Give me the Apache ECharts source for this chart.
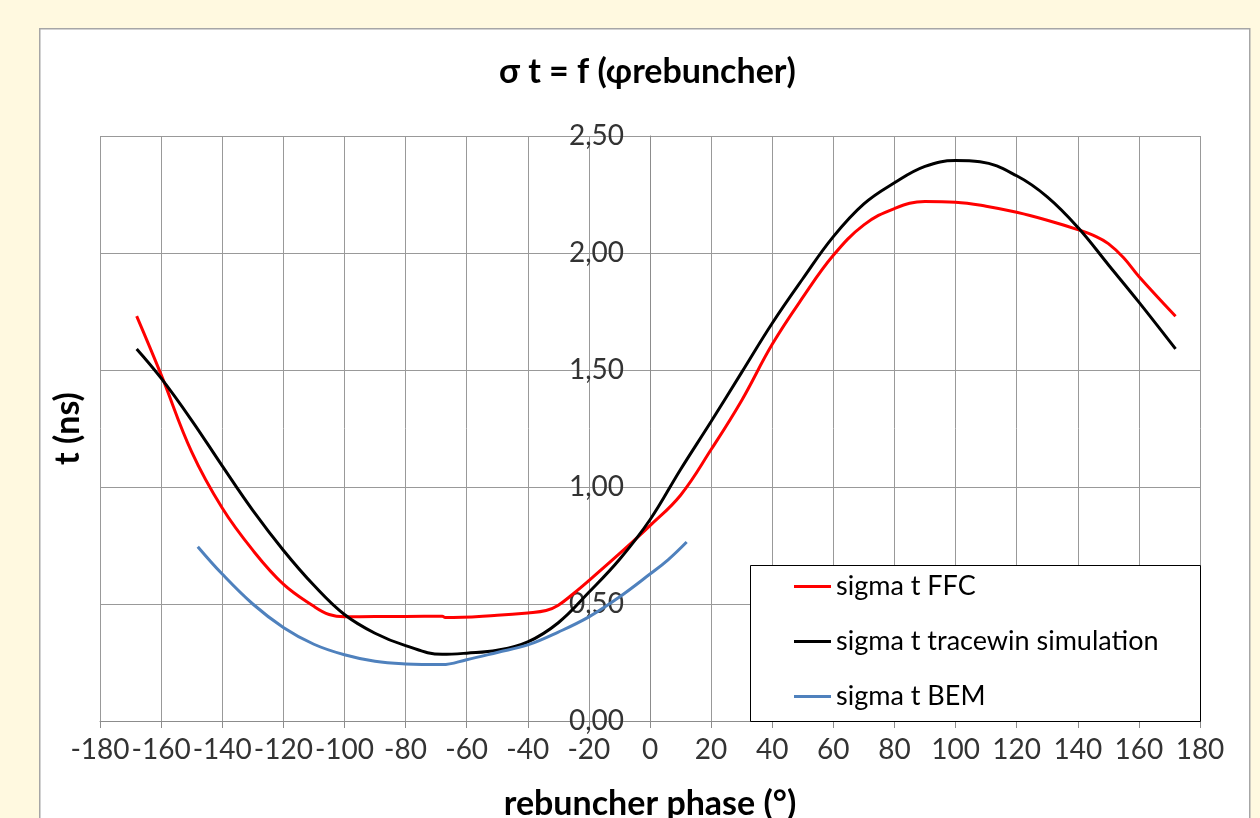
<!DOCTYPE html>
<html>
<head>
<meta charset="utf-8">
<script src="https://cdn.jsdelivr.net/npm/echarts@6/dist/echarts.min.js"></script>
<style>
html,body{margin:0;padding:0;background:#FFF9E0;}
#chart{width:1260px;height:818px;}
</style>
</head>
<body>
<div id="chart"></div>
<script>
// ---- data ----
const seriesNames = ['sigma t FFC', 'sigma t tracewin simulation', 'sigma t BEM'];

const phaseFFC = [-168, -160, -150, -140, -130, -120, -110, -105, -100, -90, -80, -68, -67, -50, -40, -34, -30, -25, -20, -10, 0, 10, 20, 30, 40, 50, 60, 70, 80, 90, 100, 110, 120, 130, 140, 146, 150, 155, 160, 172];
const sigmaFFC = [1.73, 1.48, 1.15, 0.91, 0.73, 0.585, 0.49, 0.455, 0.445, 0.447, 0.447, 0.448, 0.442, 0.452, 0.462, 0.472, 0.495, 0.545, 0.6, 0.715, 0.835, 0.965, 1.16, 1.37, 1.61, 1.81, 1.99, 2.12, 2.19, 2.22, 2.217, 2.2, 2.174, 2.14, 2.1, 2.07, 2.04, 1.98, 1.9, 1.73];

const phaseSim = [-168, -160, -150, -140, -130, -120, -110, -100, -90, -80, -68, -60, -50, -40, -30, -20, -10, 0, 10, 20, 30, 40, 50, 60, 70, 80, 90, 100, 108, 120, 130, 140, 150, 160, 172];
const sigmaSim = [1.59, 1.465, 1.285, 1.09, 0.9, 0.73, 0.58, 0.455, 0.375, 0.322, 0.285, 0.29, 0.302, 0.338, 0.42, 0.55, 0.69, 0.86, 1.075, 1.28, 1.49, 1.7, 1.89, 2.07, 2.21, 2.3, 2.37, 2.395, 2.39, 2.33, 2.24, 2.11, 1.95, 1.79, 1.59];

const phaseBEM = [-148, -140, -130, -120, -110, -100, -90, -80, -68, -60, -50, -40, -30, -20, -10, 0, 6, 12];
const sigmaBEM = [0.745, 0.628, 0.5, 0.4, 0.328, 0.283, 0.255, 0.244, 0.241, 0.262, 0.293, 0.325, 0.38, 0.445, 0.53, 0.628, 0.69, 0.765];

const xTicks = [-180, 180, 20];   // min, max, interval
const yTicks = [0, 2.5, 0.5];     // min, max, interval

const titleText = 'σ t = f (φrebuncher)';
const xName = 'rebuncher phase (°)';
const yName = 't (ns)';

const zip = (xs, ys) => xs.map((x, i) => [x, ys[i]]);

const FONT = 'Lato, Carlito, "Open Sans", sans-serif';
const chart = echarts.init(document.getElementById('chart'));

chart.setOption({
  backgroundColor: '#FFF9E0',
  animation: false,
  graphic: [
    { type: 'rect', left: 39, top: 28, shape: { width: 1210, height: 810 },
      style: { fill: '#FFFFFF', stroke: '#A6A6A6', lineWidth: 1.5 }, z: -10 },
    { type: 'rect', left: 750, top: 565, shape: { width: 450, height: 156 },
      style: { fill: '#FFFFFF', stroke: '#000000', lineWidth: 1 }, z: 3 }
  ],
  title: {
    text: titleText,
    left: 494,
    top: 50,
    textStyle: { fontFamily: FONT, fontSize: 34, fontWeight: 'bold', color: '#000' }
  },
  legend: {
    orient: 'vertical',
    left: 789,
    top: 568,
    itemWidth: 37,
    itemHeight: 3,
    itemGap: 28,
    icon: 'rect',
    data: seriesNames,
    textStyle: { fontFamily: FONT, fontSize: 27, color: '#000' },
    z: 5
  },
  grid: { left: 100, right: 60, top: 136, bottom: 97, containLabel: false, outerBoundsMode: 'none' },
  xAxis: {
    type: 'value',
    min: xTicks[0], max: xTicks[1], interval: xTicks[2],
    name: xName,
    nameLocation: 'middle',
    nameGap: 66,
    nameTextStyle: { fontFamily: FONT, fontSize: 34, fontWeight: 'bold', color: '#000' },
    axisLine: { show: true, lineStyle: { color: '#8C8C8C', width: 1 } },
    axisTick: { show: true, length: 7, lineStyle: { color: '#8C8C8C' } },
    axisLabel: { fontFamily: FONT, fontSize: 28, color: '#333', margin: 15 },
    splitLine: { show: true, lineStyle: { color: '#999999', width: 1 } }
  },
  yAxis: {
    type: 'value',
    position: 'left',
    offset: -550,
    min: yTicks[0], max: yTicks[1], interval: yTicks[2],
    name: yName,
    nameLocation: 'middle',
    nameRotate: 90,
    nameGap: 565,
    nameTextStyle: { fontFamily: FONT, fontSize: 34, fontWeight: 'bold', color: '#000' },
    axisLine: { show: true, onZero: false, lineStyle: { color: '#8C8C8C', width: 1 } },
    axisTick: { show: false },
    axisLabel: {
      fontFamily: FONT, fontSize: 28, color: '#333', margin: 26,
      formatter: v => v.toFixed(2).replace('.', ',')
    },
    splitLine: { show: true, lineStyle: { color: '#999999', width: 1 } }
  },
  series: [
    { name: seriesNames[0], type: 'line', data: zip(phaseFFC, sigmaFFC), smooth: 0.4,
      showSymbol: false, color: '#FF0000', lineStyle: { width: 3 }, z: 3 },
    { name: seriesNames[1], type: 'line', data: zip(phaseSim, sigmaSim), smooth: 0.4,
      showSymbol: false, color: '#000000', lineStyle: { width: 3 }, z: 3 },
    { name: seriesNames[2], type: 'line', data: zip(phaseBEM, sigmaBEM), smooth: 0.4,
      showSymbol: false, color: '#4F81BD', lineStyle: { width: 3 }, z: 3 }
  ]
});
</script>
</body>
</html>
